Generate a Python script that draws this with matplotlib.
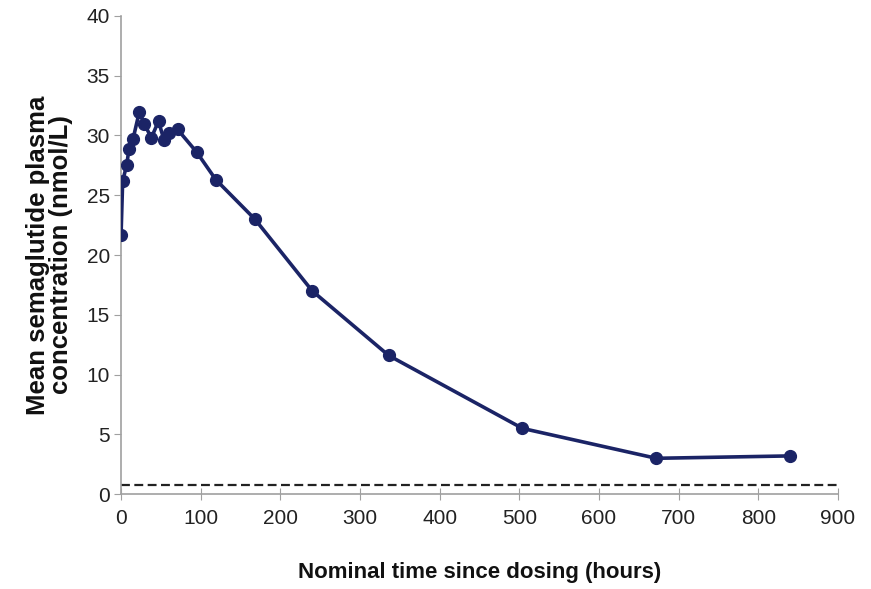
import matplotlib
matplotlib.use("Agg")
import matplotlib.pyplot as plt

hours = [0, 2, 7, 10, 15, 23, 29, 38, 47, 54, 60, 71, 95, 119, 168, 240, 336, 504, 672, 840]
conc = [21.7, 26.2, 27.5, 28.9, 29.7, 32.0, 31.0, 29.8, 31.2, 29.6, 30.2, 30.5,
        28.6, 26.3, 23.0, 17.0, 11.6, 5.5, 3.0, 3.2]
lloq = 0.75
x_ticks = [0, 100, 200, 300, 400, 500, 600, 700, 800, 900]
y_ticks = [0, 5, 10, 15, 20, 25, 30, 35, 40]

plt.rcParams['font.family'] = ['Liberation Sans', 'DejaVu Sans']

fig = plt.figure(figsize=(8.71, 5.89), dpi=100)
ax = fig.add_axes([0.139, 0.161, 0.823, 0.812])

navy = '#1b2466'
ax.plot(hours, conc, color=navy, lw=2.6, marker='o', ms=8.5, mfc=navy, mec=navy, zorder=3)
ax.axhline(lloq, color='#222222', lw=1.6, ls=(0, (4, 2)), zorder=2)

ax.set_xlim(0, 900)
ax.set_ylim(0, 40)
ax.set_xticks(x_ticks)
ax.set_yticks(y_ticks)
for s in ['top', 'right']:
    ax.spines[s].set_visible(False)
for s in ['left', 'bottom']:
    ax.spines[s].set_color('#a0a0a0')
    ax.spines[s].set_linewidth(1.2)
ax.tick_params(axis='y', direction='out', length=5, color='#a0a0a0', labelsize=15, labelcolor='#222222', pad=3)
ax.tick_params(axis='x', direction='inout', length=8, color='#a0a0a0', labelsize=15, labelcolor='#222222', pad=7)

ax.set_ylabel('Mean semaglutide plasma\nconcentration (nmol/L)', fontsize=18.5, fontweight='bold',
              color='#111111', labelpad=10, linespacing=0.95)
ax.set_xlabel('Nominal time since dosing (hours)', fontsize=16, fontweight='bold',
              color='#111111', labelpad=24)

fig.savefig('out.png', dpi=100)
